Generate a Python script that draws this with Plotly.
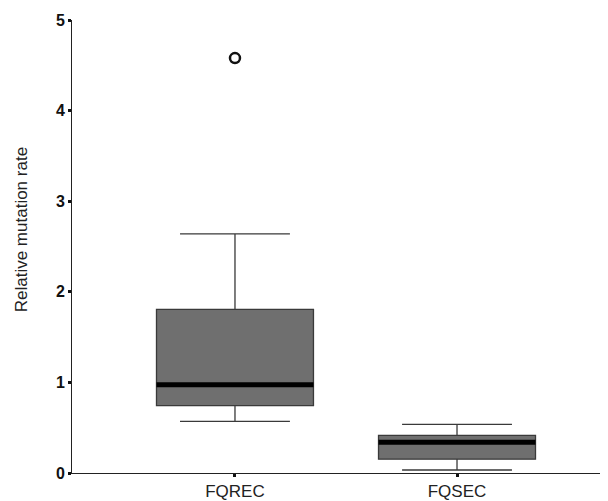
import plotly.graph_objects as go

categories = ["FQREC", "FQSEC"]
q1 = [0.744, 0.153]
median = [0.974, 0.339]
q3 = [1.805, 0.416]
lowerfence = [0.569, 0.033]
upperfence = [2.64, 0.536]
outlier_cat = [0]
outlier_val = [4.58]
y_ticks = [0, 1, 2, 3, 4, 5]

xpos = list(range(len(categories)))
box_w = 0.707

fig = go.Figure()
fig.add_trace(go.Box(
    x=xpos, q1=q1, median=median, q3=q3,
    lowerfence=lowerfence, upperfence=upperfence,
    width=box_w, whiskerwidth=0.7,
    fillcolor="#6f6f6f", line=dict(color="#3a3a3a", width=1.3),
    boxpoints=False, showlegend=False, hoverinfo="skip",
))
for i, m in zip(xpos, median):
    fig.add_trace(go.Scatter(
        x=[i - box_w / 2, i + box_w / 2], y=[m, m], mode="lines",
        line=dict(color="black", width=5), showlegend=False, hoverinfo="skip",
    ))
fig.add_trace(go.Scatter(
    x=outlier_cat, y=outlier_val, mode="markers",
    marker=dict(symbol="circle-open", size=10, color="#111", line=dict(width=2.5)),
    showlegend=False, hoverinfo="skip",
))

fig.update_layout(
    width=600, height=493,
    margin=dict(l=64, r=0, t=12, b=24),
    paper_bgcolor="white", plot_bgcolor="white",
    font=dict(family="Liberation Sans, Arial, sans-serif", color="#111"),
    annotations=[dict(
        text="Relative mutation rate", xref="paper", yref="paper",
        x=-0.095, y=0.536, textangle=-90, showarrow=False,
        xanchor="center", yanchor="middle",
        font=dict(size=17, color="#222"),
    )],
)
fig.update_xaxes(
    range=[-0.734, 1.68], tickvals=xpos, ticktext=categories,
    showgrid=False, zeroline=False, showline=True, linecolor="#222", linewidth=1,
    ticks="outside", ticklen=3, tickwidth=3, tickcolor="#111",
    tickfont=dict(size=17, color="#222"),
)
fig.update_yaxes(
    range=[0, 5], tickvals=y_ticks,
    showgrid=False, zeroline=False, showline=True, linecolor="#222", linewidth=1,
    ticks="outside", ticklen=3, tickwidth=3, tickcolor="#111",
    tickfont=dict(size=16, color="#111", weight="bold"),
)

fig.write_html("out.html")
